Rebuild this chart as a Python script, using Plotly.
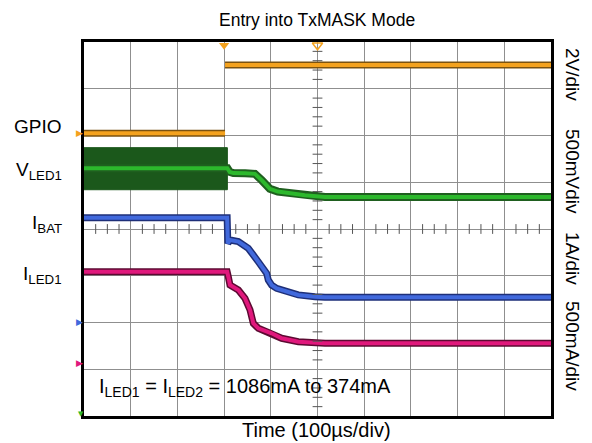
import numpy as np
import plotly.graph_objects as go

# ---------------- data (time in µs, 100 µs/div) ----------------
# GPIO (V), 2 V/div  (low segment, then high segment after the edge)
t_gpio = [0, 302, 302, 1000]
v_gpio = [0.0, 0.0, 2.92, 2.92]

# V_LED1 (V), 500 mV/div
t_vled = [0, 307, 312, 320, 345, 366, 381, 390, 398, 415, 441, 473, 516, 1000]
v_vled = [2.65, 2.65, 2.61, 2.598, 2.595, 2.59, 2.52, 2.47, 2.43, 2.40, 2.38, 2.36, 2.342, 2.342]
# pre-step ripple envelope of V_LED1 (V)
t_vled_ripple = [0, 307]
v_vled_hi = [2.87, 2.87]
v_vled_lo = [2.42, 2.42]

# I_BAT (A), 1 A/div
t_ibat = [0, 306.5, 308, 312.6, 330.5, 351.8, 373.2, 383.9, 391.2, 394.6, 401.9, 412.6, 423.3, 458.8, 494.6, 516, 1000]
i_ibat = [2.22, 2.22, 1.67, 1.745, 1.71, 1.567, 1.28, 1.14, 1.03, 0.89, 0.78, 0.71, 0.675, 0.57, 0.53, 0.52, 0.52]

# I_LED1 (mA), 500 mA/div
t_iled = [0, 306.5, 309, 312.6, 330.5, 344.7, 355.5, 362.6, 373.3, 401.9, 423.3, 458.9, 516, 1000]
i_iled = [973, 973, 920, 831, 778, 689, 564, 421, 368, 315, 261, 225, 208, 208]

# scope channel settings: (ground offset in div, units per div)
ch_gpio = (6.05, 2.0)
ch_vled = (0.0, 0.5)
ch_ibat = (2.02, 1.0)
ch_iled = (1.14, 500.0)

trigger_t = 300
center_t = 500

ORANGE, GREEN, BLUE, MAGENTA = "#f4a21e", "#2cb82c", "#4169dc", "#e0187c"

def to_div(vals, ch):
    off, scale = ch
    return [off + v / scale for v in vals]

fig = go.Figure()

def thick_trace(t, y, edge, core, we, wc):
    fig.add_trace(go.Scatter(x=t, y=y, mode="lines", line=dict(color=edge, width=we),
                             hoverinfo="skip", showlegend=False))
    fig.add_trace(go.Scatter(x=t, y=y, mode="lines", line=dict(color=core, width=wc),
                             hoverinfo="skip", showlegend=False))

# green ripple band
hi = to_div(v_vled_hi, ch_vled)
lo = to_div(v_vled_lo, ch_vled)
fig.add_trace(go.Scatter(x=t_vled_ripple + t_vled_ripple[::-1], y=hi + lo[::-1],
                         fill="toself", fillcolor="#1b581b", mode="lines",
                         line=dict(color="#1b581b", width=1), hoverinfo="skip", showlegend=False))

thick_trace(t_vled, to_div(v_vled, ch_vled), "#1f5f1f", GREEN, 8, 4)
g = to_div(v_gpio, ch_gpio)
thick_trace(t_gpio[:2], g[:2], "#7a5210", ORANGE, 7, 4)
thick_trace(t_gpio[2:], g[2:], "#7a5210", ORANGE, 7, 4)
thick_trace(t_ibat, to_div(i_ibat, ch_ibat), "#1e2f78", BLUE, 7, 4)
thick_trace(t_iled, to_div(i_iled, ch_iled), "#5c0a32", MAGENTA, 7, 4)

# center graticule ticks
xt = [v for v in np.arange(0, 1001, 25) if v % 100 != 0]
yt = [v for v in np.arange(0, 8.01, 0.2) if abs(v - round(v)) > 1e-6]
fig.add_trace(go.Scatter(x=xt, y=[4] * len(xt), mode="markers",
                         marker=dict(symbol="line-ns", size=7, line=dict(color="#555", width=1)),
                         hoverinfo="skip", showlegend=False))
fig.add_trace(go.Scatter(x=[center_t] * len(yt), y=yt, mode="markers",
                         marker=dict(symbol="line-ew", size=7, line=dict(color="#555", width=1)),
                         hoverinfo="skip", showlegend=False))

# trigger markers at the top edge
fig.add_trace(go.Scatter(x=[trigger_t], y=[7.93], mode="markers", cliponaxis=False,
                         marker=dict(symbol="triangle-down", size=9, color=ORANGE),
                         hoverinfo="skip", showlegend=False))
fig.add_trace(go.Scatter(x=[center_t], y=[7.93], mode="markers", cliponaxis=False,
                         marker=dict(symbol="triangle-down-open", size=9, color=ORANGE,
                                     line=dict(width=1.5)),
                         hoverinfo="skip", showlegend=False))

FONT = "Liberation Sans, Arial, sans-serif"

def px(x):
    return (x - 84) / 467.0

def py(y):
    return (416 - y) / 374.0

ann = []
def add(text, x, y, size, xa="center", ya="middle", angle=0, color="#000", family=FONT):
    ann.append(dict(text=text, x=px(x), y=py(y), xref="paper", yref="paper",
                    xanchor=xa, yanchor=ya, showarrow=False, textangle=angle,
                    font=dict(family=family, size=size, color=color)))

# channel ground markers just left of the graticule
for (off, _), col in [(ch_gpio, ORANGE), (ch_ibat, BLUE), (ch_iled, MAGENTA)]:
    ann.append(dict(text="▶", x=0, y=off, xref="paper", yref="y", xanchor="right",
                    yanchor="middle", showarrow=False, xshift=1,
                    font=dict(family="DejaVu Sans", size=9, color=col)))
ann.append(dict(text="▼", x=0, y=ch_vled[0], xref="paper", yref="y", xanchor="right",
                yanchor="bottom", showarrow=False, xshift=2, yshift=-4,
                font=dict(family="DejaVu Sans", size=7, color=GREEN)))

add("Entry into TxMASK Mode", 317, 20, 17.5)
add("Time (100µs/div)", 316, 430, 20)
add("GPIO", 64, 126, 19, xa="right")
add("V<sub>LED1</sub>", 64, 171, 19, xa="right")
add("I<sub>BAT</sub>", 64, 224, 19, xa="right")
add("I<sub>LED1</sub>", 64, 275, 19, xa="right")
add("I<sub>LED1</sub> = I<sub>LED2</sub> = 1086mA to 374mA", 97, 387, 20, xa="left")
add("2V/div", 573, 74, 19, angle=90)
add("500mVdiv", 573, 171, 19, angle=90)
add("1A/div", 573, 258, 19, angle=90)
add("500mA/div", 573, 346, 19, angle=90)

axis_common = dict(showgrid=True, gridcolor="#8f8f8f", gridwidth=1.3, zeroline=False,
                   showline=True, linecolor="#000", linewidth=2.5, mirror=True,
                   showticklabels=False, ticks="", fixedrange=True)

fig.update_layout(
    width=592, height=443,
    margin=dict(l=84, r=41, t=42, b=27, autoexpand=False),
    paper_bgcolor="white", plot_bgcolor="white",
    xaxis=dict(range=[0, 1000], dtick=100, **axis_common),
    yaxis=dict(range=[0, 8], dtick=1, **axis_common),
    annotations=ann,
    showlegend=False,
)

fig.write_html("out.html", config={"displayModeBar": False},
               post_script="document.body.style.margin='0';document.body.style.padding='0';")
